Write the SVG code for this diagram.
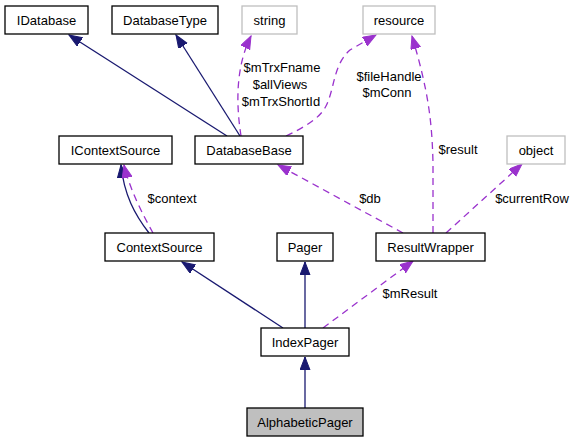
<svg xmlns="http://www.w3.org/2000/svg" width="576" height="443" viewBox="0 0 576 443">
<style>
  text { font-family: "Liberation Sans", Arial, sans-serif; font-size: 13px; fill: #000; text-anchor: middle; }
  .node rect { fill: #fff; stroke: #000; stroke-width: 1.3; }
  .ext rect { fill: #fff; stroke: #bfbfbf; stroke-width: 1.3; }
  .cur rect { fill: #bfbfbf; stroke: #000; stroke-width: 1.3; }
  .inh { fill: none; stroke: #191970; stroke-width: 1.3; marker-end: url(#ah-blue); }
  .use { fill: none; stroke: #9a32cd; stroke-width: 1.3; stroke-dasharray: 7,5; marker-end: url(#ah-purple); }
</style>
<defs>
  <marker id="ah-blue" markerUnits="userSpaceOnUse" markerWidth="14" markerHeight="12" refX="13" refY="5" orient="auto">
    <path d="M0,0 L13,5 L0,10 z" fill="#191970" stroke="#191970"/>
  </marker>
  <marker id="ah-purple" markerUnits="userSpaceOnUse" markerWidth="14" markerHeight="12" refX="13" refY="5" orient="auto">
    <path d="M0,0 L13,5 L0,10 z" fill="#9a32cd" stroke="#9a32cd"/>
  </marker>
</defs>
<rect width="576" height="443" fill="#fff"/>
<g id="edges">
  <path class="inh" d="M227,136 L69,35"/>
  <path class="inh" d="M240,136 L176,35"/>
  <path class="use" d="M241,136 C 237,110 234,70 251,36"/>
  <path class="use" d="M286,136 C 305,127 320,118 326,106 C 335,88 333,65 350,50 L 376,35"/>
  <path class="inh" d="M149,233 C 135,215 124,195 121,165"/>
  <path class="use" d="M153,233 C 143,215 130,190 124,165"/>
  <path class="inh" d="M283,328 L182,262"/>
  <path class="inh" d="M305,328 L305,262"/>
  <path class="use" d="M323,328 L413,261"/>
  <path class="inh" d="M305,408 L305,357"/>
  <path class="use" d="M403,233 L278,165"/>
  <path class="use" d="M433,233 L433,163 C 432,120 428,90 412,36"/>
  <path class="use" d="M446,233 L522,164"/>
  <text x="282" y="72">$mTrxFname</text>
  <text x="280" y="89">$allViews</text>
  <text x="281" y="106">$mTrxShortId</text>
  <text x="389" y="81">$fileHandle</text>
  <text x="387" y="97">$mConn</text>
  <text x="458" y="154">$result</text>
  <text x="172" y="203">$context</text>
  <text x="370" y="203">$db</text>
  <text x="532" y="203">$currentRow</text>
  <text x="410" y="298">$mResult</text>
</g>
<g id="IDatabase" class="node"><rect x="5" y="6" width="83" height="28"/><text x="46.5" y="24.5">IDatabase</text></g>
<g id="DatabaseType" class="node"><rect x="112" y="6" width="106" height="28"/><text x="165" y="24.5">DatabaseType</text></g>
<g id="string" class="ext"><rect x="242" y="6" width="55" height="28"/><text x="269.5" y="24.5">string</text></g>
<g id="resource" class="ext"><rect x="363" y="6" width="72" height="28"/><text x="399" y="24.5">resource</text></g>
<g id="IContextSource" class="node"><rect x="59" y="136" width="113" height="28"/><text x="115.5" y="154.5">IContextSource</text></g>
<g id="DatabaseBase" class="node"><rect x="195" y="136" width="108" height="28"/><text x="249" y="154.5">DatabaseBase</text></g>
<g id="object" class="ext"><rect x="507" y="136" width="58" height="28"/><text x="536" y="154.5">object</text></g>
<g id="ContextSource" class="node"><rect x="105" y="233" width="109" height="28"/><text x="159.5" y="251.5">ContextSource</text></g>
<g id="Pager" class="node"><rect x="277" y="233" width="56" height="28"/><text x="305" y="251.5">Pager</text></g>
<g id="ResultWrapper" class="node"><rect x="376" y="233" width="109" height="28"/><text x="430.5" y="251.5">ResultWrapper</text></g>
<g id="IndexPager" class="node"><rect x="261" y="328" width="88" height="28"/><text x="305" y="346.5">IndexPager</text></g>
<g id="AlphabeticPager" class="cur"><rect x="247" y="408" width="116" height="28"/><text x="305" y="426.5">AlphabeticPager</text></g>
</svg>
